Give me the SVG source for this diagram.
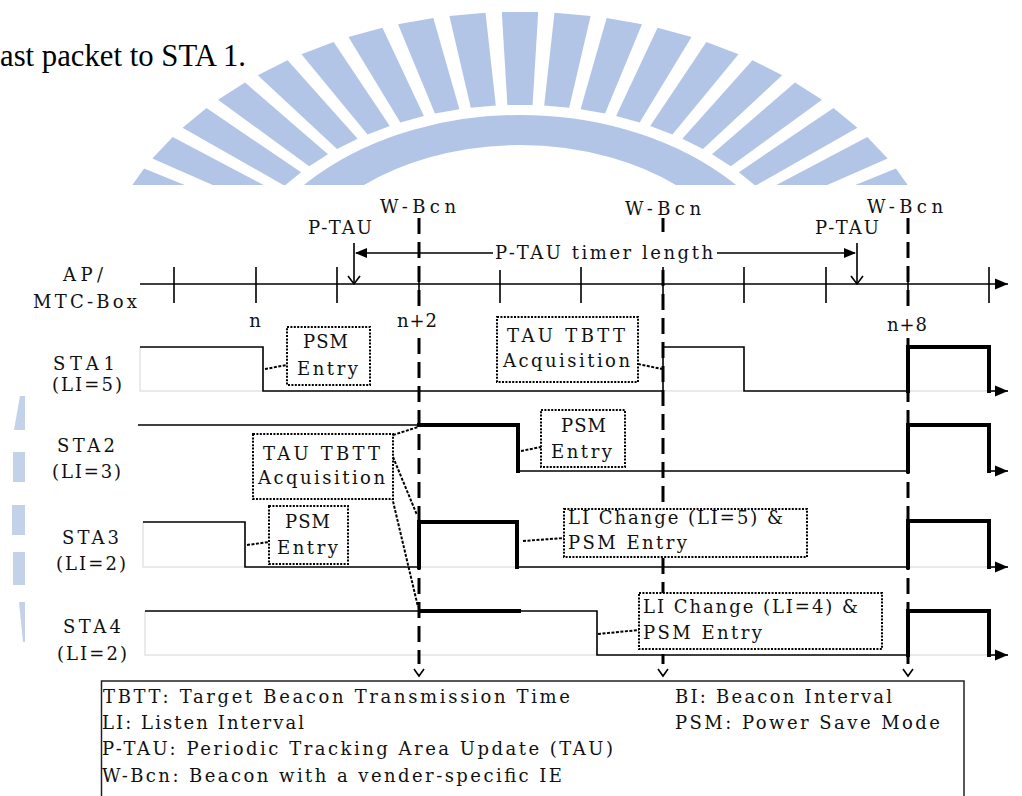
<svg xmlns="http://www.w3.org/2000/svg" width="1022" height="796" viewBox="0 0 1022 796">
<style>
text { font-family: "DejaVu Serif", "Liberation Serif", serif; font-size: 18px; fill: #111; }
.thin { stroke: #000; stroke-width: 1.6; fill: none; }
.thick { stroke: #000; stroke-width: 4; fill: none; stroke-linejoin: miter; stroke-linecap: square; }
.faint { stroke: #e4e4e4; stroke-width: 1.5; fill: none; }
.dash { stroke: #000; stroke-width: 3; stroke-dasharray: 16 8; fill: none; }
.dotbox { fill: #fff; stroke: #000; stroke-width: 2; stroke-dasharray: 2 1.4; }
.dotline { stroke: #000; stroke-width: 2; stroke-dasharray: 3 1.5; fill: none; }
.wm { fill: #b3c5e6; }
.chev { stroke: #000; stroke-width: 1.6; fill: none; }
</style>
<defs>
<marker id="fa" markerWidth="14" markerHeight="12" refX="13" refY="6" orient="auto" markerUnits="userSpaceOnUse">
<path d="M0,0.5 L13,6 L0,11.5 Z" fill="#000"/>
</marker>
<clipPath id="wmclip"><rect x="0" y="0" width="1022" height="185"/></clipPath>
<polygon id="ray" points="-9,-215 9,-215 13,-308 -13,-308"/>
</defs>
<rect x="0" y="0" width="1022" height="796" fill="#fff"/>

<!-- watermark -->
<g id="watermark" clip-path="url(#wmclip)">
<g transform="translate(520,320) scale(1.4,1)" class="wm">
<circle r="190" fill="none" stroke="#b3c5e6" stroke-width="30"/>
<use href="#ray" transform="rotate(-63)"/>
<use href="#ray" transform="rotate(-56)"/>
<use href="#ray" transform="rotate(-49)"/>
<use href="#ray" transform="rotate(-42)"/>
<use href="#ray" transform="rotate(-35)"/>
<use href="#ray" transform="rotate(-28)"/>
<use href="#ray" transform="rotate(-21)"/>
<use href="#ray" transform="rotate(-14)"/>
<use href="#ray" transform="rotate(-7)"/>
<use href="#ray"/>
<use href="#ray" transform="rotate(7)"/>
<use href="#ray" transform="rotate(14)"/>
<use href="#ray" transform="rotate(21)"/>
<use href="#ray" transform="rotate(28)"/>
<use href="#ray" transform="rotate(35)"/>
<use href="#ray" transform="rotate(42)"/>
<use href="#ray" transform="rotate(49)"/>
<use href="#ray" transform="rotate(56)"/>
<use href="#ray" transform="rotate(63)"/>
</g>
</g>
<g id="watermark-left" fill="#b9c9e6" opacity="0.85">
<polygon points="14,430 25,430 25,396 20,396"/>
<rect x="13" y="452" width="12" height="30"/>
<rect x="12" y="505" width="13" height="30"/>
<rect x="13" y="552" width="12" height="33"/>
<polygon points="19,602 25,602 25,642 23,642"/>
</g>

<text x="0" y="66" style="font-family:'Liberation Serif','Times New Roman',serif;font-size:31px;fill:#000" textLength="246" lengthAdjust="spacingAndGlyphs">ast packet to STA 1.</text>

<!-- faint artifact lines -->
<g id="faint">
<path class="faint" d="M140,347 V391 H263 M663,391 H744 M908,391 H989"/>
<path class="faint" d="M143,522 V567 H245 M419,567 H517 M908,567 H989"/>
<path class="faint" d="M145,611 V655 H597 M908,655 H989"/>
</g>

<!-- axis -->
<g id="axis">
<line class="thin" x1="140" y1="284" x2="1008" y2="284" marker-end="url(#fa)"/>
<path class="thin" d="M174,267 V303 M256,267 V303 M337,267 V303 M419,267 V303 M500,270 V303 M581,267 V303 M663,267 V303 M744,267 V303 M826,267 V303 M908,267 V303 M989,267 V303"/>
</g>

<!-- dashed W-Bcn lines -->
<g id="wbcn-lines">
<line class="dash" x1="419" y1="218" x2="419" y2="664"/>
<line class="dash" x1="663" y1="218" x2="663" y2="232"/>
<line class="dash" x1="663" y1="270" x2="663" y2="664"/>
<line class="dash" x1="908" y1="218" x2="908" y2="664"/>
<path class="chev" d="M414,669 L419,676 L424,669 M658,669 L663,676 L668,669 M903,669 L908,676 L913,669"/>
</g>

<!-- P-TAU arrows and timer -->
<g id="ptau">
<path class="thin" d="M354,243 V284 M857,243 V284"/>
<path class="chev" d="M348,276 L354,284 L360,276 M851,276 L857,284 L863,276"/>
<path class="thin" d="M356,253 H493 M717,253 H855"/>
<polygon points="355,253 367,248 367,258" fill="#000"/>
<polygon points="856,253 844,248 844,258" fill="#000"/>
</g>

<!-- signals -->
<g id="signals">
<path class="thin" d="M140,347 H263 V391 H663 V347 H744 V391 H908"/>
<path class="thick" d="M908,391 V347 H989 V391"/>
<line class="thin" x1="989" y1="391" x2="1008" y2="391" marker-end="url(#fa)"/>

<path class="thin" d="M138,425 H419"/>
<path class="thick" d="M419,425 H518 V471"/>
<path class="thin" d="M518,471 H908"/>
<path class="thick" d="M908,471 V425 H989 V471"/>
<line class="thin" x1="989" y1="471" x2="1008" y2="471" marker-end="url(#fa)"/>

<path class="thin" d="M143,522 H245 V567 H419"/>
<path class="thick" d="M419,567 V522 H517 V567"/>
<path class="thin" d="M517,567 H908"/>
<path class="thick" d="M908,567 V521 H989 V567"/>
<line class="thin" x1="989" y1="567" x2="1008" y2="567" marker-end="url(#fa)"/>

<path class="thin" d="M145,611 H597 V655 H908"/>
<path class="thick" d="M419,611 H521" style="stroke-linecap:butt"/>
<path class="thick" d="M908,655 V611 H989 V655"/>
<line class="thin" x1="989" y1="655" x2="1008" y2="655" marker-end="url(#fa)"/>
</g>

<!-- connectors -->
<g id="connectors">
<path class="dotline" d="M265,369 L287,365"/>
<path class="dotline" d="M638,364 L662,369"/>
<path class="dotline" d="M521,451 L541,447"/>
<path class="dotline" d="M393,435 L418,427"/>
<path class="dotline" d="M393,457 L417,515"/>
<path class="dotline" d="M392,497 L418,607"/>
<path class="dotline" d="M247,545 L269,542"/>
<path class="dotline" d="M523,541 L564,538"/>
<path class="dotline" d="M598,634 L639,630"/>
</g>

<!-- top labels -->
<g id="labels-top">
<text x="380" y="213" textLength="76" lengthAdjust="spacing">W-Bcn</text>
<text x="625" y="215" textLength="76" lengthAdjust="spacing">W-Bcn</text>
<text x="867" y="213" textLength="76" lengthAdjust="spacing">W-Bcn</text>
<text x="308" y="234" textLength="64" lengthAdjust="spacing">P-TAU</text>
<text x="815" y="234" textLength="64" lengthAdjust="spacing">P-TAU</text>
<rect x="494" y="244" width="221" height="20" fill="#fff"/>
<text x="495" y="259" textLength="218" lengthAdjust="spacing">P-TAU timer length</text>
</g>

<g id="axis-labels">
<text x="63" y="281" textLength="40" lengthAdjust="spacing">AP/</text>
<text x="33" y="308" textLength="104" lengthAdjust="spacing">MTC-Box</text>
<text x="255" y="327" text-anchor="middle">n</text>
<rect x="396" y="310" width="42" height="20" fill="#fff"/>
<text x="397" y="327" textLength="40" lengthAdjust="spacing">n+2</text>
<rect x="886" y="314" width="42" height="20" fill="#fff"/>
<text x="887" y="331" textLength="40" lengthAdjust="spacing">n+8</text>
</g>

<g id="sta1-label">
<text x="53" y="370" textLength="62" lengthAdjust="spacing">STA1</text>
<text x="52" y="391" textLength="70" lengthAdjust="spacing">(LI=5)</text>
</g>
<g id="sta2-label">
<text x="57" y="452" textLength="58" lengthAdjust="spacing">STA2</text>
<text x="52" y="478" textLength="69" lengthAdjust="spacing">(LI=3)</text>
</g>
<g id="sta3-label">
<text x="62" y="544" textLength="57" lengthAdjust="spacing">STA3</text>
<text x="56" y="570" textLength="70" lengthAdjust="spacing">(LI=2)</text>
</g>
<g id="sta4-label">
<text x="63" y="633" textLength="58" lengthAdjust="spacing">STA4</text>
<text x="57" y="660" textLength="70" lengthAdjust="spacing">(LI=2)</text>
</g>

<!-- boxes -->
<g id="box-sta1-psm">
<rect class="dotbox" x="287" y="327" width="83" height="58"/>
<text x="303" y="348" textLength="45" lengthAdjust="spacing">PSM</text>
<text x="297" y="375" textLength="61" lengthAdjust="spacing">Entry</text>
</g>
<g id="box-sta1-tau">
<rect class="dotbox" x="497" y="317" width="141" height="65"/>
<text x="507" y="342" textLength="118" lengthAdjust="spacing">TAU TBTT</text>
<text x="503" y="367" textLength="127" lengthAdjust="spacing">Acquisition</text>
</g>
<g id="box-sta2-psm">
<rect class="dotbox" x="541" y="410" width="84" height="57"/>
<text x="561" y="432" textLength="45" lengthAdjust="spacing">PSM</text>
<text x="551" y="458" textLength="61" lengthAdjust="spacing">Entry</text>
</g>
<g id="box-tau">
<rect class="dotbox" x="253" y="434" width="140" height="65"/>
<text x="263" y="460" textLength="117" lengthAdjust="spacing">TAU TBTT</text>
<text x="258" y="484" textLength="127" lengthAdjust="spacing">Acquisition</text>
</g>
<g id="box-sta3-psm">
<rect class="dotbox" x="269" y="506" width="79" height="58"/>
<text x="285" y="528" textLength="45" lengthAdjust="spacing">PSM</text>
<text x="277" y="554" textLength="61" lengthAdjust="spacing">Entry</text>
</g>
<g id="box-sta3-li">
<rect class="dotbox" x="564" y="509" width="243" height="48"/>
<text x="568" y="524" textLength="215" lengthAdjust="spacing">LI Change (LI=5) &amp;</text>
<text x="568" y="549" textLength="119" lengthAdjust="spacing">PSM Entry</text>
</g>
<g id="box-sta4-li">
<rect class="dotbox" x="639" y="593" width="243" height="56"/>
<text x="643" y="613" textLength="215" lengthAdjust="spacing">LI Change (LI=4) &amp;</text>
<text x="643" y="639" textLength="119" lengthAdjust="spacing">PSM Entry</text>
</g>

<!-- legend -->
<g id="legend">
<rect x="101.5" y="681" width="862.5" height="140" fill="#fff" stroke="#222" stroke-width="1.5"/>
<text x="103" y="703" textLength="467" lengthAdjust="spacing">TBTT: Target Beacon Transmission Time</text>
<text x="102" y="729" textLength="202" lengthAdjust="spacing">LI: Listen Interval</text>
<text x="102" y="755" textLength="511" lengthAdjust="spacing">P-TAU: Periodic Tracking Area Update (TAU)</text>
<text x="102" y="782" textLength="460" lengthAdjust="spacing">W-Bcn: Beacon with a vender-specific IE</text>
<text x="675" y="703" textLength="217" lengthAdjust="spacing">BI: Beacon Interval</text>
<text x="675" y="729" textLength="265" lengthAdjust="spacing">PSM: Power Save Mode</text>
</g>
</svg>
